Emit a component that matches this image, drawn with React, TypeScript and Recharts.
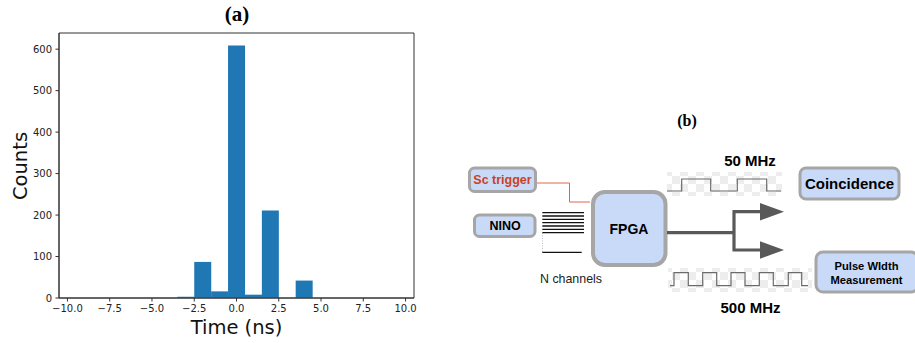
import { BarChart, Bar, XAxis, YAxis, ReferenceArea } from "recharts";

// histogram bins (ns) and counts
const BIN_CENTERS = [-10, -9, -8, -7, -6, -5, -4, -3, -2, -1, 0, 1, 2, 3, 4, 5, 6, 7, 8, 9, 10];
const COUNTS = [0, 0, 0, 0, 0, 0, 0, 3, 87, 16, 609, 8, 211, 0, 42, 0, 0, 0, 0, 0, 0];
const X_TICKS = [-10, -7.5, -5, -2.5, 0, 2.5, 5, 7.5, 10];
const Y_TICKS = [0, 100, 200, 300, 400, 500, 600];
const X_DOMAIN: [number, number] = [-10.5, 10.5];
const Y_DOMAIN: [number, number] = [0, 639];

const BAR_COLOR = "#1f77b4";
const FRAME = "#333333";
const TICK_FONT = { fontFamily: "DejaVu Sans", fontSize: 10, fill: "#222" };

const BOX_FILL = "#c9daf8";
const BOX_STROKE = "#a6a6a6";
const ARROW = "#595959";
const WAVE = "#6b6b6b";
const SANS = "Liberation Sans, Arial, sans-serif";

const histData = BIN_CENTERS.map((t, i) => ({ t, count: COUNTS[i] }));

function fmtTick(v: number) {
  return (v < 0 ? "\u2212" : "") + Math.abs(v).toFixed(1);
}

// square wave: alternating rise/fall edges between x0 and x1
function wavePath(x0: number, x1: number, low: number, high: number, edges: number[]) {
  let d = `M${x0},${low}`;
  let level = low;
  for (const e of edges) {
    const next = level === low ? high : low;
    d += ` L${e},${level} L${e},${next}`;
    level = next;
  }
  d += ` L${x1},${level}`;
  return d;
}

function Box({ x, y, w, h, r = 5, sw = 3 }: { x: number; y: number; w: number; h: number; r?: number; sw?: number }) {
  return <rect x={x} y={y} width={w} height={h} rx={r} ry={r} fill={BOX_FILL} stroke={BOX_STROKE} strokeWidth={sw} />;
}

function Diagram() {
  const channelYs = [212.7, 216, 219.3, 222.7, 226, 229.3, 232.7];
  return (
    <g>
      <defs>
        <pattern id="checker" x="0" y="0" width="16" height="16" patternUnits="userSpaceOnUse">
          <rect x="0" y="0" width="8" height="8" fill="#ededed" />
          <rect x="8" y="8" width="8" height="8" fill="#ededed" />
        </pattern>
      </defs>

      <text x={687} y={126} textAnchor="middle" fontFamily="Liberation Serif, serif" fontWeight="bold" fontSize={16}>
        (b)
      </text>

      {/* Sc trigger */}
      <Box x={469.5} y={168} w={66} h={23.5} />
      <text x={502.5} y={180} textAnchor="middle" dominantBaseline="central" fontFamily={SANS} fontWeight="bold" fontSize={12.5} fill="#cc4125">
        Sc trigger
      </text>
      <path d="M537,183 L569.5,183 L569.5,202 L590,202" fill="none" stroke="#e06650" strokeWidth={1} />

      {/* NINO */}
      <Box x={474.5} y={215} w={60.5} h={21.5} />
      <text x={505} y={226} textAnchor="middle" dominantBaseline="central" fontFamily={SANS} fontWeight="bold" fontSize={12.5}>
        NINO
      </text>

      {/* channels */}
      {channelYs.map((y) => (
        <line key={y} x1={542.3} x2={584} y1={y} y2={y} stroke="#111" strokeWidth={1.3} />
      ))}
      <line x1={542.5} x2={542.5} y1={233} y2={252} stroke="#aaa" strokeWidth={0.8} strokeDasharray="1 1.5" />
      <line x1={542.3} x2={581.7} y1={252.3} y2={252.3} stroke="#111" strokeWidth={1.3} />
      <text x={571} y={279} textAnchor="middle" dominantBaseline="central" fontFamily={SANS} fontSize={12.4} fill="#222">
        N channels
      </text>

      {/* FPGA */}
      <Box x={593} y={192} w={72.5} h={73} r={12} sw={4} />
      <text x={629} y={228.5} textAnchor="middle" dominantBaseline="central" fontFamily={SANS} fontWeight="bold" fontSize={14}>
        FPGA
      </text>

      {/* arrows */}
      <path d="M667,232.7 L734,232.7 M734,211.7 L734,250 M732.5,211.7 L762,211.7 M732.5,250 L762,250" fill="none" stroke={ARROW} strokeWidth={3.2} />
      <polygon points="760,203 784,211.7 760,220.4" fill={ARROW} />
      <polygon points="760,241.3 784,250 760,258.7" fill={ARROW} />

      {/* clocks */}
      <text x={750} y={160} textAnchor="middle" dominantBaseline="central" fontFamily={SANS} fontWeight="bold" fontSize={15}>
        50 MHz
      </text>
      <rect x={667} y={172} width={115} height={24} fill="url(#checker)" />
      <path d={wavePath(667, 781, 191, 179, [681.7, 710.7, 737.3, 766.7])} fill="none" stroke={WAVE} strokeWidth={1.2} />

      <rect x={668} y={268} width={144} height={24} fill="url(#checker)" />
      <path
        d={wavePath(670, 808, 285.7, 272.7, [674, 688.3, 702.7, 716.7, 731, 745, 759.3, 773.3, 788.3, 801.7])}
        fill="none"
        stroke={WAVE}
        strokeWidth={1.2}
      />
      <text x={750.5} y={307} textAnchor="middle" dominantBaseline="central" fontFamily={SANS} fontWeight="bold" fontSize={15}>
        500 MHz
      </text>

      {/* outputs */}
      <Box x={800} y={168} w={99} h={31} r={6} />
      <text x={849.5} y={183.5} textAnchor="middle" dominantBaseline="central" fontFamily={SANS} fontWeight="bold" fontSize={15}>
        Coincidence
      </text>
      <Box x={816} y={252} w={102} h={40} r={7} />
      <text x={866.5} y={265.5} textAnchor="middle" dominantBaseline="central" fontFamily={SANS} fontWeight="bold" fontSize={11.2}>
        Pulse WIdth
      </text>
      <text x={866.5} y={280} textAnchor="middle" dominantBaseline="central" fontFamily={SANS} fontWeight="bold" fontSize={11.2}>
        Measurement
      </text>
    </g>
  );
}

export default function App() {
  return (
    <div style={{ position: "absolute", left: 0, top: 0, width: 915, height: 343, background: "#fff", overflow: "hidden" }}>
      <div style={{ position: "absolute", left: 0, top: 0 }}>
        <BarChart
          width={420}
          height={343}
          data={histData}
          margin={{ top: 33, right: 6, bottom: 0, left: 0 }}
          barCategoryGap={0}
          barGap={0}
        >
          <XAxis
            dataKey="t"
            type="number"
            domain={X_DOMAIN}
            ticks={X_TICKS}
            tickFormatter={fmtTick}
            height={45}
            tickSize={3.5}
            tickMargin={3.5}
            tick={TICK_FONT}
            tickLine={{ stroke: FRAME }}
            axisLine={{ stroke: FRAME }}
            allowDataOverflow
          />
          <YAxis
            type="number"
            domain={Y_DOMAIN}
            ticks={Y_TICKS}
            width={59}
            tickSize={3.5}
            tickMargin={3.5}
            tick={TICK_FONT}
            tickLine={{ stroke: FRAME }}
            axisLine={{ stroke: FRAME }}
            allowDataOverflow
          />
          <Bar dataKey="count" fill={BAR_COLOR} isAnimationActive={false} />
          {/* matplotlib-style box around the axes */}
          <ReferenceArea
            x1={X_DOMAIN[0]}
            x2={X_DOMAIN[1]}
            y1={Y_DOMAIN[0]}
            y2={Y_DOMAIN[1]}
            fill="none"
            fillOpacity={0}
            stroke={FRAME}
            strokeWidth={1}
            ifOverflow="visible"
          />
        </BarChart>
      </div>
      <svg width={915} height={343} style={{ position: "absolute", left: 0, top: 0, pointerEvents: "none" }}>
        <text x={237} y={21.3} textAnchor="middle" fontFamily="Liberation Serif, serif" fontWeight="bold" fontSize={21}>
          (a)
        </text>
        <text
          x={27}
          y={166}
          transform="rotate(-90, 27, 166)"
          textAnchor="middle"
          fontFamily="DejaVu Sans"
          fontSize={19.5}
          fill="#111"
        >
          Counts
        </text>
        <text x={236.5} y={334} textAnchor="middle" fontFamily="DejaVu Sans" fontSize={19.5} fill="#111">
          Time (ns)
        </text>
        <Diagram />
      </svg>
    </div>
  );
}
